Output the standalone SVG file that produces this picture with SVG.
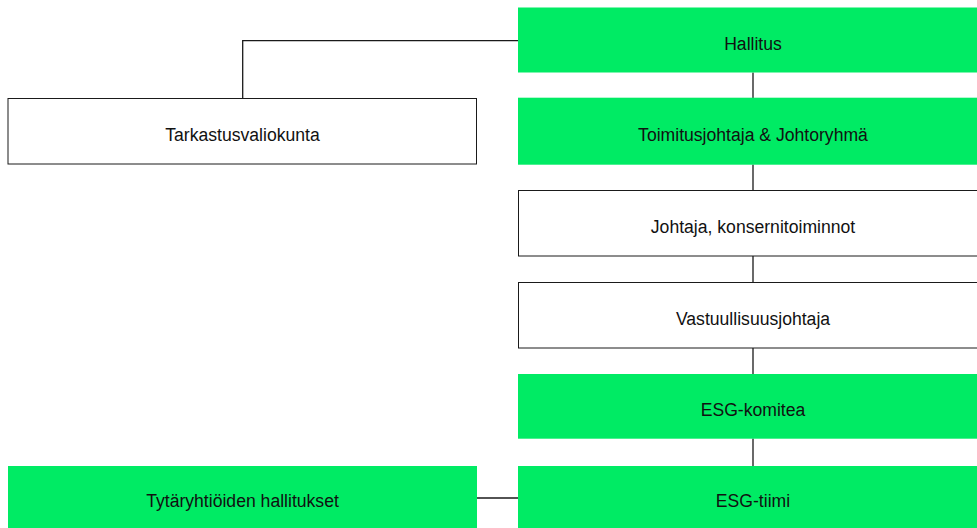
<svg xmlns="http://www.w3.org/2000/svg" width="977" height="528" viewBox="0 0 977 528">
<style>
.g{fill:#00EB64;}
.w{fill:#fff;stroke:#1a1a1a;stroke-width:1;}
.t{font-family:"Liberation Sans",Arial,sans-serif;font-size:17.6px;fill:#111;text-anchor:middle;}
.c{fill:none;stroke:#1a1a1a;stroke-width:1.3;}
</style>
<rect width="977" height="528" fill="#fff"/>
<g id="connectors">
<polyline class="c" points="518,40.7 242.7,40.7 242.7,98.5"/>
<line class="c" x1="753" y1="72.5" x2="753" y2="98"/>
<line class="c" x1="753" y1="164.5" x2="753" y2="190.5"/>
<line class="c" x1="753" y1="256" x2="753" y2="282.5"/>
<line class="c" x1="753" y1="348" x2="753" y2="374"/>
<line class="c" x1="753" y1="438.5" x2="753" y2="466"/>
<line class="c" x1="477" y1="498" x2="518" y2="498"/>
</g>
<g id="hallitus">
<rect class="g" x="518" y="7.5" width="459" height="65"/>
<text class="t" x="753" y="49.5">Hallitus</text>
</g>
<g id="tarkastusvaliokunta">
<rect class="w" x="8" y="98.5" width="468.5" height="65.5"/>
<text class="t" x="242.5" y="141">Tarkastusvaliokunta</text>
</g>
<g id="toimitusjohtaja">
<rect class="g" x="518" y="97.7" width="459" height="67"/>
<text class="t" x="753" y="141">Toimitusjohtaja &amp; Johtoryhmä</text>
</g>
<g id="johtaja">
<rect class="w" x="518.5" y="190.5" width="460" height="65.5"/>
<text class="t" x="753" y="232.7">Johtaja, konsernitoiminnot</text>
</g>
<g id="vastuullisuusjohtaja">
<rect class="w" x="518.5" y="282.5" width="460" height="65.5"/>
<text class="t" x="753" y="324.8">Vastuullisuusjohtaja</text>
</g>
<g id="esg-komitea">
<rect class="g" x="518" y="374" width="459" height="64.7"/>
<text class="t" x="753" y="415.8">ESG-komitea</text>
</g>
<g id="esg-tiimi">
<rect class="g" x="518" y="466" width="459" height="62"/>
<text class="t" x="753" y="506.7">ESG-tiimi</text>
</g>
<g id="tytaryhtioiden-hallitukset">
<rect class="g" x="8" y="466" width="469" height="62"/>
<text class="t" x="242.5" y="506.7">Tytäryhtiöiden hallitukset</text>
</g>
</svg>
